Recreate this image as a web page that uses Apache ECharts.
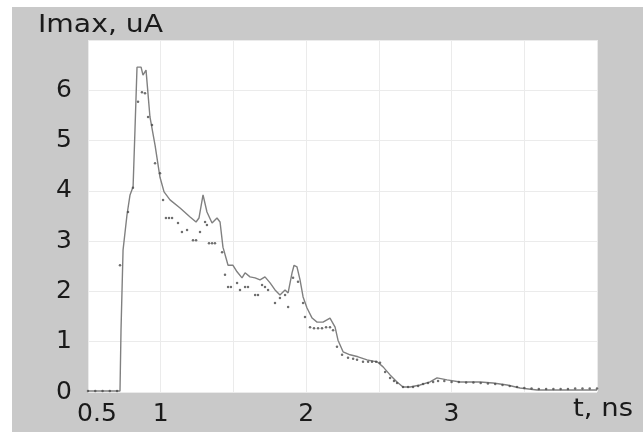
<!DOCTYPE html>
<html>
<head>
    <meta charset="utf-8" />
    <title>Imax vs t</title>
    <script src="https://cdn.jsdelivr.net/npm/echarts@6.0.0/dist/echarts.min.js"></script>
    <style>
        body { margin: 0; background: #fff; }
        #main { position: absolute; left: 12px; top: 7px; width: 631px; height: 425px; }
    </style>
</head>
<body>
    <div id="main"></div>
    <script type="text/javascript">
        // solid curve, t in ns / Imax in uA
        var solidT = [0.5, 0.72, 0.727, 0.741, 0.768, 0.789, 0.81, 0.823, 0.837, 0.865, 0.878, 0.899,
            0.926, 0.961, 0.995, 1.023, 1.064, 1.133, 1.202, 1.243, 1.263, 1.291, 1.318, 1.353,
            1.387, 1.408, 1.428, 1.463, 1.497, 1.525, 1.559, 1.58, 1.614, 1.649, 1.683, 1.717,
            1.752, 1.786, 1.82, 1.855, 1.876, 1.903, 1.917, 1.937, 1.958, 1.979, 2.006, 2.041,
            2.075, 2.116, 2.164, 2.199, 2.219, 2.254, 2.302, 2.357, 2.419, 2.488, 2.529, 2.577,
            2.625, 2.666, 2.715, 2.783, 2.852, 2.9, 2.969, 3.058, 3.196, 3.285, 3.382, 3.471,
            3.588, 4.0];
        var solidV = [0.02, 0.02, 1.23, 2.82, 3.52, 3.92, 4.08, 5.21, 6.46, 6.46, 6.3, 6.4,
            5.47, 4.91, 4.27, 3.98, 3.82, 3.66, 3.48, 3.38, 3.46, 3.92, 3.58, 3.36,
            3.46, 3.38, 2.88, 2.52, 2.52, 2.39, 2.27, 2.37, 2.29, 2.27, 2.23, 2.29,
            2.17, 2.03, 1.93, 2.03, 1.97, 2.37, 2.52, 2.49, 2.23, 1.89, 1.67, 1.47,
            1.39, 1.39, 1.47, 1.29, 1.03, 0.8, 0.74, 0.7, 0.64, 0.6, 0.5, 0.34,
            0.2, 0.1, 0.1, 0.14, 0.2, 0.28, 0.24, 0.2, 0.2, 0.18, 0.14, 0.08,
            0.04, 0.04];

        // dotted curve
        var dotT = [0.5, 0.55, 0.6, 0.65, 0.7, 0.72, 0.775, 0.809, 0.844, 0.871, 0.892, 0.913,
            0.94, 0.961, 0.995, 1.016, 1.036, 1.057, 1.078, 1.119, 1.146, 1.181, 1.222, 1.243,
            1.27, 1.305, 1.318, 1.332, 1.353, 1.373, 1.422, 1.442, 1.463, 1.483, 1.525, 1.545,
            1.58, 1.6, 1.649, 1.669, 1.697, 1.717, 1.738, 1.786, 1.82, 1.855, 1.876, 1.91,
            1.944, 1.979, 1.992, 2.027, 2.054, 2.082, 2.109, 2.137, 2.164, 2.185, 2.212, 2.247,
            2.288, 2.323, 2.35, 2.391, 2.426, 2.453, 2.481, 2.508, 2.543, 2.577, 2.604, 2.625,
            2.666, 2.701, 2.735, 2.77, 2.804, 2.838, 2.873, 2.907, 2.95, 3.0, 3.05, 3.1,
            3.15, 3.2, 3.25, 3.3, 3.35, 3.4, 3.45, 3.5, 3.55, 3.6, 3.65, 3.7,
            3.75, 3.8, 3.85, 3.9, 3.95, 4.0];
        var dotV = [0.02, 0.02, 0.02, 0.02, 0.02, 2.52, 3.58, 4.06, 5.77, 5.96, 5.94, 5.47,
            5.31, 4.55, 4.35, 3.82, 3.46, 3.46, 3.46, 3.36, 3.18, 3.22, 3.02, 3.02,
            3.18, 3.38, 3.32, 2.96, 2.96, 2.96, 2.78, 2.33, 2.09, 2.09, 2.17, 2.03,
            2.09, 2.09, 1.93, 1.93, 2.13, 2.09, 2.03, 1.77, 1.87, 1.93, 1.69, 2.27,
            2.19, 1.77, 1.49, 1.29, 1.27, 1.27, 1.27, 1.29, 1.29, 1.23, 0.9, 0.74,
            0.68, 0.66, 0.64, 0.6, 0.6, 0.6, 0.6, 0.58, 0.4, 0.28, 0.22, 0.18,
            0.1, 0.1, 0.1, 0.12, 0.16, 0.18, 0.2, 0.22, 0.22, 0.2, 0.2, 0.19,
            0.19, 0.18, 0.17, 0.16, 0.14, 0.12, 0.1, 0.08, 0.07, 0.06, 0.06, 0.06,
            0.06, 0.06, 0.07, 0.07, 0.07, 0.07];

        var xTickLabels = [0.5, 1, 2, 3];
        var yTickLabels = [0, 1, 2, 3, 4, 5, 6];

        function zip(a, b) {
            return a.map(function (v, i) { return [v, b[i]]; });
        }

        var myChart = echarts.init(document.getElementById('main'));
        var labelFont = '"DejaVu Sans", sans-serif';
        var textColor = '#1a1a1a';

        var option = {
            backgroundColor: '#c9c9c9',
            animation: false,
            grid: {
                left: 76, top: 33, width: 509, height: 352,
                show: true, backgroundColor: '#ffffff', borderWidth: 0
            },
            xAxis: {
                type: 'value', min: 0.5, max: 4, interval: 0.5,
                axisLine: { show: false },
                axisTick: { show: false },
                splitLine: { lineStyle: { color: '#ebebeb', width: 1 } },
                axisLabel: {
                    margin: 10,
                    fontSize: 25, color: textColor, fontFamily: labelFont,
                    formatter: function (v) {
                        if (xTickLabels.indexOf(v) < 0) return '';
                        if (v === 0.5) return '{a|0.5}';
                        return String(v);
                    },
                    rich: { a: { fontSize: 25, color: textColor, fontFamily: labelFont, padding: [0, 0, 0, 18] } }
                }
            },
            yAxis: {
                type: 'value', min: 0, max: 7, interval: 1,
                axisLine: { show: false },
                axisTick: { show: false },
                splitLine: { lineStyle: { color: '#ebebeb', width: 1 } },
                axisLabel: {
                    margin: 16,
                    fontSize: 25, color: textColor, fontFamily: labelFont,
                    formatter: function (v) {
                        return yTickLabels.indexOf(v) < 0 ? '' : String(v);
                    }
                }
            },
            graphic: [
                {
                    type: 'text', x: 26, y: 18, scaleX: 1.13,
                    style: { text: 'Imax, uA', font: '25px ' + labelFont, fill: textColor, verticalAlign: 'middle' }
                },
                {
                    type: 'text', x: 561, y: 402, scaleX: 1.1,
                    style: { text: 't, ns', font: '25px ' + labelFont, fill: textColor, verticalAlign: 'middle' }
                }
            ],
            series: [
                {
                    type: 'line',
                    data: zip(solidT, solidV),
                    showSymbol: false,
                    lineStyle: { color: '#808080', width: 1.4 },
                    z: 2
                },
                {
                    type: 'scatter',
                    data: zip(dotT, dotV),
                    symbol: 'circle',
                    symbolSize: 2.5,
                    itemStyle: { color: '#4a4a4a' },
                    z: 3
                }
            ]
        };

        myChart.setOption(option);
    </script>
</body>
</html>
